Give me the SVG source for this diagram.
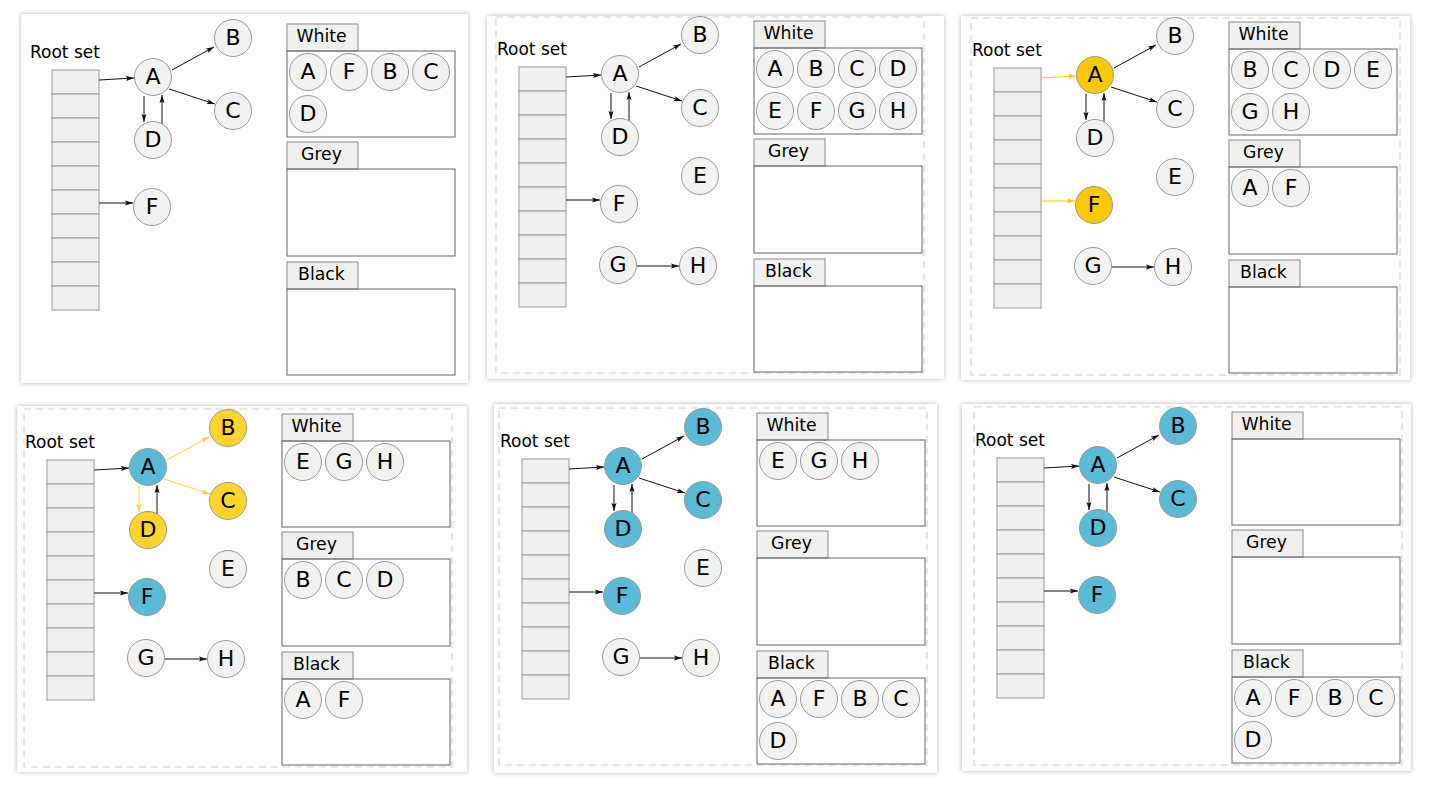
<svg xmlns="http://www.w3.org/2000/svg" width="1448" height="789" viewBox="0 0 1448 789">
<style>
text{font-family:"DejaVu Sans","Liberation Sans",sans-serif;fill:#000}
.card{fill:#fdfdfc;filter:url(#sh)}
.dash{fill:none;stroke:#e0e0de;stroke-width:1.5;stroke-dasharray:7 5}
.rs{font-size:17px}
.cell{fill:#f0f1ef;stroke:#9a9a9a;stroke-width:1}
.tab{fill:#f0f1ef;stroke:#888;stroke-width:1}
.box{fill:none;stroke:#666;stroke-width:1}
.tl{font-size:17.3px;text-anchor:middle}
.n circle{fill:#f2f2f0;stroke:#999;stroke-width:1}
.n text{font-size:22px;text-anchor:middle}
.n.y1 circle{fill:#fcc800}
.n.y2 circle{fill:#fdd42a}
.n.b circle{fill:#5bbad5}
.e{fill:none;stroke:#111;stroke-width:1;marker-end:url(#ak)}
.e.y1{stroke:#fcc800;marker-end:url(#ay1)}
.e.y2{stroke:#fdd42a;marker-end:url(#ay2)}
</style>
<defs>
<filter id="sh" x="-5%" y="-5%" width="110%" height="110%">
<feDropShadow dx="0" dy="0" stdDeviation="2.5" flood-color="#000" flood-opacity="0.3"/>
</filter>
<marker id="ak" markerUnits="userSpaceOnUse" markerWidth="8" markerHeight="6" refX="8" refY="3" orient="auto"><path d="M0,0.5 L8,3 L0,5.5 L1.5,3 z" fill="#111"/></marker>
<marker id="ay1" markerUnits="userSpaceOnUse" markerWidth="8" markerHeight="6" refX="8" refY="3" orient="auto"><path d="M0,0.5 L8,3 L0,5.5 L1.5,3 z" fill="#fcc800"/></marker>
<marker id="ay2" markerUnits="userSpaceOnUse" markerWidth="8" markerHeight="6" refX="8" refY="3" orient="auto"><path d="M0,0.5 L8,3 L0,5.5 L1.5,3 z" fill="#fdd42a"/></marker>
<g id="stack">
<rect class="cell" x="52" y="70" width="47" height="24"/>
<rect class="cell" x="52" y="94" width="47" height="24"/>
<rect class="cell" x="52" y="118" width="47" height="24"/>
<rect class="cell" x="52" y="142" width="47" height="24"/>
<rect class="cell" x="52" y="166" width="47" height="24"/>
<rect class="cell" x="52" y="190" width="47" height="24"/>
<rect class="cell" x="52" y="214" width="47" height="24"/>
<rect class="cell" x="52" y="238" width="47" height="24"/>
<rect class="cell" x="52" y="262" width="47" height="24"/>
<rect class="cell" x="52" y="286" width="47" height="24"/>
</g>
<g id="sets">
<rect class="tab" x="287" y="24" width="71" height="27"/>
<text class="tl" x="321.5" y="42">White</text>
<rect class="box" x="287" y="51" width="168" height="86"/>
<rect class="tab" x="287" y="142" width="71" height="27"/>
<text class="tl" x="321.5" y="160">Grey</text>
<rect class="box" x="287" y="169" width="168" height="87"/>
<rect class="tab" x="287" y="262" width="71" height="27"/>
<text class="tl" x="321.5" y="280">Black</text>
<rect class="box" x="287" y="289" width="168" height="86"/>
</g>
</defs>

<g id="cards">
<rect class="card" x="21" y="14" width="447" height="369"/>
<rect class="card" x="487" y="16" width="457" height="363"/>
<rect class="card" x="961" y="16" width="449" height="364"/>
<rect class="card" x="17" y="406" width="450" height="366"/>
<rect class="card" x="494" y="404" width="443" height="369"/>
<rect class="card" x="962" y="404" width="449" height="367"/>
<rect class="dash" x="496" y="17" width="428" height="356"/>
<rect class="dash" x="971" y="18" width="429" height="357"/>
<rect class="dash" x="24" y="409" width="428" height="358"/>
<rect class="dash" x="499" y="408" width="428" height="357"/>
<rect class="dash" x="974" y="407" width="428" height="358"/>
</g>

<!-- Panel 1 -->
<g id="panel1">
<text class="rs" x="30" y="58">Root set</text>
<g id="p1-rootset"><use href="#stack"/></g>
<g id="p1-edges">
<path class="e" d="M99,80 L134,78"/>
<path class="e" d="M99,203 L133,203"/>
<path class="e" d="M172,70 L214,47"/>
<path class="e" d="M169,89 L215,104"/>
<path class="e" d="M144,96 L144,122"/>
<path class="e" d="M162,124 L162,95"/>
</g>
<g id="p1-A" class="n"><circle cx="153" cy="77" r="18.5"/><text x="153" y="84">A</text></g>
<g id="p1-B" class="n"><circle cx="233" cy="38" r="18.5"/><text x="233" y="45">B</text></g>
<g id="p1-C" class="n"><circle cx="233" cy="111" r="18.5"/><text x="233" y="118">C</text></g>
<g id="p1-D" class="n"><circle cx="153" cy="140" r="18.5"/><text x="153" y="147">D</text></g>
<g id="p1-F" class="n"><circle cx="152" cy="207" r="18.5"/><text x="152" y="214">F</text></g>
<g id="p1-sets"><use href="#sets"/>
<g class="n"><circle cx="308" cy="72" r="18.5"/><text x="308" y="79">A</text></g>
<g class="n"><circle cx="349" cy="72" r="18.5"/><text x="349" y="79">F</text></g>
<g class="n"><circle cx="390" cy="72" r="18.5"/><text x="390" y="79">B</text></g>
<g class="n"><circle cx="431" cy="72" r="18.5"/><text x="431" y="79">C</text></g>
<g class="n"><circle cx="308" cy="114" r="18.5"/><text x="308" y="121">D</text></g>
</g>
</g>

<!-- Panel 2 -->
<g id="panel2" transform="translate(467,-3)">
<text class="rs" x="30" y="58">Root set</text>
<g id="p2-rootset"><use href="#stack"/></g>
<g id="p2-edges">
<path class="e" d="M99,80 L134,78"/>
<path class="e" d="M99,203 L133,203"/>
<path class="e" d="M172,70 L214,47"/>
<path class="e" d="M169,89 L215,104"/>
<path class="e" d="M144,96 L144,122"/>
<path class="e" d="M162,124 L162,95"/>
<path class="e" d="M170,269 L212,269"/>
</g>
<g id="p2-A" class="n"><circle cx="153" cy="77" r="18.5"/><text x="153" y="84">A</text></g>
<g id="p2-B" class="n"><circle cx="233" cy="38" r="18.5"/><text x="233" y="45">B</text></g>
<g id="p2-C" class="n"><circle cx="233" cy="111" r="18.5"/><text x="233" y="118">C</text></g>
<g id="p2-D" class="n"><circle cx="153" cy="140" r="18.5"/><text x="153" y="147">D</text></g>
<g id="p2-E" class="n"><circle cx="233" cy="179" r="18.5"/><text x="233" y="186">E</text></g>
<g id="p2-F" class="n"><circle cx="152" cy="207" r="18.5"/><text x="152" y="214">F</text></g>
<g id="p2-G" class="n"><circle cx="151" cy="268" r="18.5"/><text x="151" y="275">G</text></g>
<g id="p2-H" class="n"><circle cx="231" cy="269" r="18.5"/><text x="231" y="276">H</text></g>
<g id="p2-sets"><use href="#sets"/>
<g class="n"><circle cx="308" cy="72" r="18.5"/><text x="308" y="79">A</text></g>
<g class="n"><circle cx="349" cy="72" r="18.5"/><text x="349" y="79">B</text></g>
<g class="n"><circle cx="390" cy="72" r="18.5"/><text x="390" y="79">C</text></g>
<g class="n"><circle cx="431" cy="72" r="18.5"/><text x="431" y="79">D</text></g>
<g class="n"><circle cx="308" cy="114" r="18.5"/><text x="308" y="121">E</text></g>
<g class="n"><circle cx="349" cy="114" r="18.5"/><text x="349" y="121">F</text></g>
<g class="n"><circle cx="390" cy="114" r="18.5"/><text x="390" y="121">G</text></g>
<g class="n"><circle cx="431" cy="114" r="18.5"/><text x="431" y="121">H</text></g>
</g>
</g>

<!-- Panel 3 -->
<g id="panel3" transform="translate(942,-2)">
<text class="rs" x="30" y="58">Root set</text>
<g id="p3-rootset"><use href="#stack"/></g>
<g id="p3-edges">
<path class="e y1" d="M99,80 L134,78"/>
<path class="e y1" d="M99,203 L133,203"/>
<path class="e" d="M172,70 L214,47"/>
<path class="e" d="M169,89 L215,104"/>
<path class="e" d="M144,96 L144,122"/>
<path class="e" d="M162,124 L162,95"/>
<path class="e" d="M170,269 L212,269"/>
</g>
<g id="p3-A" class="n y1"><circle cx="153" cy="77" r="18.5"/><text x="153" y="84">A</text></g>
<g id="p3-B" class="n"><circle cx="233" cy="38" r="18.5"/><text x="233" y="45">B</text></g>
<g id="p3-C" class="n"><circle cx="233" cy="111" r="18.5"/><text x="233" y="118">C</text></g>
<g id="p3-D" class="n"><circle cx="153" cy="140" r="18.5"/><text x="153" y="147">D</text></g>
<g id="p3-E" class="n"><circle cx="233" cy="179" r="18.5"/><text x="233" y="186">E</text></g>
<g id="p3-F" class="n y1"><circle cx="152" cy="207" r="18.5"/><text x="152" y="214">F</text></g>
<g id="p3-G" class="n"><circle cx="151" cy="268" r="18.5"/><text x="151" y="275">G</text></g>
<g id="p3-H" class="n"><circle cx="231" cy="269" r="18.5"/><text x="231" y="276">H</text></g>
<g id="p3-sets"><use href="#sets"/>
<g class="n"><circle cx="308" cy="72" r="18.5"/><text x="308" y="79">B</text></g>
<g class="n"><circle cx="349" cy="72" r="18.5"/><text x="349" y="79">C</text></g>
<g class="n"><circle cx="390" cy="72" r="18.5"/><text x="390" y="79">D</text></g>
<g class="n"><circle cx="431" cy="72" r="18.5"/><text x="431" y="79">E</text></g>
<g class="n"><circle cx="308" cy="114" r="18.5"/><text x="308" y="121">G</text></g>
<g class="n"><circle cx="349" cy="114" r="18.5"/><text x="349" y="121">H</text></g>
<g class="n"><circle cx="308" cy="190" r="18.5"/><text x="308" y="197">A</text></g>
<g class="n"><circle cx="349" cy="190" r="18.5"/><text x="349" y="197">F</text></g>
</g>
</g>

<!-- Panel 4 -->
<g id="panel4" transform="translate(-5,390)">
<text class="rs" x="30" y="58">Root set</text>
<g id="p4-rootset"><use href="#stack"/></g>
<g id="p4-edges">
<path class="e" d="M99,80 L134,78"/>
<path class="e" d="M99,203 L133,203"/>
<path class="e y2" d="M172,70 L214,47"/>
<path class="e y2" d="M169,89 L215,104"/>
<path class="e y2" d="M144,96 L144,122"/>
<path class="e" d="M162,124 L162,95"/>
<path class="e" d="M170,269 L212,269"/>
</g>
<g id="p4-A" class="n b"><circle cx="153" cy="77" r="18.5"/><text x="153" y="84">A</text></g>
<g id="p4-B" class="n y2"><circle cx="233" cy="38" r="18.5"/><text x="233" y="45">B</text></g>
<g id="p4-C" class="n y2"><circle cx="233" cy="111" r="18.5"/><text x="233" y="118">C</text></g>
<g id="p4-D" class="n y2"><circle cx="153" cy="140" r="18.5"/><text x="153" y="147">D</text></g>
<g id="p4-E" class="n"><circle cx="233" cy="179" r="18.5"/><text x="233" y="186">E</text></g>
<g id="p4-F" class="n b"><circle cx="152" cy="207" r="18.5"/><text x="152" y="214">F</text></g>
<g id="p4-G" class="n"><circle cx="151" cy="268" r="18.5"/><text x="151" y="275">G</text></g>
<g id="p4-H" class="n"><circle cx="231" cy="269" r="18.5"/><text x="231" y="276">H</text></g>
<g id="p4-sets"><use href="#sets"/>
<g class="n"><circle cx="308" cy="72" r="18.5"/><text x="308" y="79">E</text></g>
<g class="n"><circle cx="349" cy="72" r="18.5"/><text x="349" y="79">G</text></g>
<g class="n"><circle cx="390" cy="72" r="18.5"/><text x="390" y="79">H</text></g>
<g class="n"><circle cx="308" cy="190" r="18.5"/><text x="308" y="197">B</text></g>
<g class="n"><circle cx="349" cy="190" r="18.5"/><text x="349" y="197">C</text></g>
<g class="n"><circle cx="390" cy="190" r="18.5"/><text x="390" y="197">D</text></g>
<g class="n"><circle cx="308" cy="310" r="18.5"/><text x="308" y="317">A</text></g>
<g class="n"><circle cx="349" cy="310" r="18.5"/><text x="349" y="317">F</text></g>
</g>
</g>

<!-- Panel 5 -->
<g id="panel5" transform="translate(470,389)">
<text class="rs" x="30" y="58">Root set</text>
<g id="p5-rootset"><use href="#stack"/></g>
<g id="p5-edges">
<path class="e" d="M99,80 L134,78"/>
<path class="e" d="M99,203 L133,203"/>
<path class="e" d="M172,70 L214,47"/>
<path class="e" d="M169,89 L215,104"/>
<path class="e" d="M144,96 L144,122"/>
<path class="e" d="M162,124 L162,95"/>
<path class="e" d="M170,269 L212,269"/>
</g>
<g id="p5-A" class="n b"><circle cx="153" cy="77" r="18.5"/><text x="153" y="84">A</text></g>
<g id="p5-B" class="n b"><circle cx="233" cy="38" r="18.5"/><text x="233" y="45">B</text></g>
<g id="p5-C" class="n b"><circle cx="233" cy="111" r="18.5"/><text x="233" y="118">C</text></g>
<g id="p5-D" class="n b"><circle cx="153" cy="140" r="18.5"/><text x="153" y="147">D</text></g>
<g id="p5-E" class="n"><circle cx="233" cy="179" r="18.5"/><text x="233" y="186">E</text></g>
<g id="p5-F" class="n b"><circle cx="152" cy="207" r="18.5"/><text x="152" y="214">F</text></g>
<g id="p5-G" class="n"><circle cx="151" cy="268" r="18.5"/><text x="151" y="275">G</text></g>
<g id="p5-H" class="n"><circle cx="231" cy="269" r="18.5"/><text x="231" y="276">H</text></g>
<g id="p5-sets"><use href="#sets"/>
<g class="n"><circle cx="308" cy="72" r="18.5"/><text x="308" y="79">E</text></g>
<g class="n"><circle cx="349" cy="72" r="18.5"/><text x="349" y="79">G</text></g>
<g class="n"><circle cx="390" cy="72" r="18.5"/><text x="390" y="79">H</text></g>
<g class="n"><circle cx="308" cy="310" r="18.5"/><text x="308" y="317">A</text></g>
<g class="n"><circle cx="349" cy="310" r="18.5"/><text x="349" y="317">F</text></g>
<g class="n"><circle cx="390" cy="310" r="18.5"/><text x="390" y="317">B</text></g>
<g class="n"><circle cx="431" cy="310" r="18.5"/><text x="431" y="317">C</text></g>
<g class="n"><circle cx="308" cy="352" r="18.5"/><text x="308" y="359">D</text></g>
</g>
</g>

<!-- Panel 6 -->
<g id="panel6" transform="translate(945,388)">
<text class="rs" x="30" y="58">Root set</text>
<g id="p6-rootset"><use href="#stack"/></g>
<g id="p6-edges">
<path class="e" d="M99,80 L134,78"/>
<path class="e" d="M99,203 L133,203"/>
<path class="e" d="M172,70 L214,47"/>
<path class="e" d="M169,89 L215,104"/>
<path class="e" d="M144,96 L144,122"/>
<path class="e" d="M162,124 L162,95"/>
</g>
<g id="p6-A" class="n b"><circle cx="153" cy="77" r="18.5"/><text x="153" y="84">A</text></g>
<g id="p6-B" class="n b"><circle cx="233" cy="38" r="18.5"/><text x="233" y="45">B</text></g>
<g id="p6-C" class="n b"><circle cx="233" cy="111" r="18.5"/><text x="233" y="118">C</text></g>
<g id="p6-D" class="n b"><circle cx="153" cy="140" r="18.5"/><text x="153" y="147">D</text></g>
<g id="p6-F" class="n b"><circle cx="152" cy="207" r="18.5"/><text x="152" y="214">F</text></g>
<g id="p6-sets"><use href="#sets"/>
<g class="n"><circle cx="308" cy="310" r="18.5"/><text x="308" y="317">A</text></g>
<g class="n"><circle cx="349" cy="310" r="18.5"/><text x="349" y="317">F</text></g>
<g class="n"><circle cx="390" cy="310" r="18.5"/><text x="390" y="317">B</text></g>
<g class="n"><circle cx="431" cy="310" r="18.5"/><text x="431" y="317">C</text></g>
<g class="n"><circle cx="308" cy="352" r="18.5"/><text x="308" y="359">D</text></g>
</g>
</g>
</svg>
